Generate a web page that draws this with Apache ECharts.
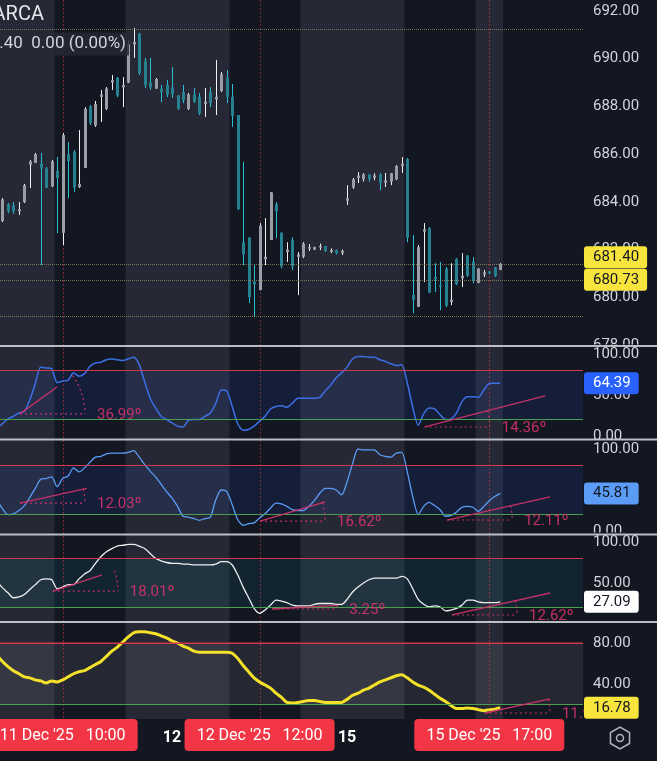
<!DOCTYPE html>
<html>
<head>
<meta charset="utf-8">
<title>ARCA 30m</title>
<script src="https://cdn.jsdelivr.net/npm/echarts@6/dist/echarts.min.js"></script>
<style>
  html, body { margin: 0; padding: 0; background: #131722; }
  #chart { width: 657px; height: 761px; }
</style>
</head>
<body>
<div id="chart"></div>
<script>
// 30 min bars, 11 Dec 04:00 -> 15 Dec 18:00 (extended hours), index = bar number
// [open, high, low, close]
const candles = [
  [683.5, 684.0, 683.2, 683.8], [683.2, 684.16, 683.15, 684.1], [683.9, 683.95, 683.53, 683.6],
  [683.85, 683.99, 683.5, 683.6], [683.6, 683.99, 683.45, 683.7], [683.99, 684.75, 683.95, 684.7],
  [685.55, 685.75, 684.58, 685.7], [685.63, 686.05, 685.63, 686.0], [685.6, 686.05, 681.35, 685.4],
  [685.4, 685.46, 684.58, 684.6], [684.65, 685.75, 684.62, 685.7], [685.3, 685.88, 682.69, 685.0],
  [682.7, 686.88, 682.19, 686.8], [686.0, 686.51, 684.16, 685.7], [686.1, 686.17, 684.41, 684.6],
  [684.62, 687.01, 684.58, 684.75], [685.42, 687.97, 685.42, 687.9], [688.0, 688.06, 687.22, 687.3],
  [687.2, 688.23, 687.14, 688.1], [688.4, 688.69, 687.35, 688.5], [687.9, 688.81, 687.85, 688.75],
  [689.0, 689.32, 688.69, 689.1], [689.2, 689.23, 688.39, 688.45], [688.8, 689.23, 687.97, 688.9],
  [689.0, 690.78, 688.98, 690.6], [690.6, 691.29, 690.03, 690.7], [691.05, 691.08, 689.32, 689.4],
  [689.9, 690.03, 688.77, 688.9], [689.0, 690.03, 688.69, 688.8], [688.75, 689.19, 688.73, 689.15],
  [688.75, 688.9, 688.18, 688.6], [688.9, 689.11, 688.39, 688.5], [688.8, 689.65, 688.35, 688.5],
  [688.45, 688.48, 687.85, 687.9], [688.6, 688.9, 688.14, 688.25], [687.9, 688.56, 687.85, 688.5],
  [688.5, 688.77, 688.14, 688.2], [688.4, 688.56, 687.64, 687.7], [688.1, 688.77, 687.56, 688.2],
  [688.6, 688.81, 687.97, 688.15], [688.3, 689.95, 687.64, 688.4], [688.65, 689.44, 688.6, 689.35],
  [689.2, 689.53, 688.14, 688.4], [688.4, 688.94, 687.14, 687.6], [687.64, 687.64, 683.66, 683.7],
  [682.3, 685.67, 681.35, 681.8], [682.5, 682.52, 679.76, 680.0], [680.65, 681.35, 679.17, 680.55],
  [680.3, 683.11, 680.3, 683.0], [681.6, 683.32, 681.35, 681.7], [682.4, 684.41, 682.4, 684.4],
  [683.9, 683.99, 682.48, 683.6], [682.7, 682.73, 681.22, 681.3], [681.9, 682.31, 681.48, 682.0],
  [682.4, 682.52, 681.14, 681.3], [681.7, 681.9, 680.09, 681.8], [681.7, 682.31, 681.64, 682.25],
  [682.05, 682.23, 681.94, 682.1], [682.0, 682.12, 681.98, 682.1], [682.1, 682.25, 681.98, 682.15],
  [682.15, 682.15, 681.9, 681.95], [681.9, 682.05, 681.85, 681.98], [681.98, 682.0, 681.8, 681.85],
  [681.85, 682.0, 681.77, 681.95], [684.05, 684.7, 683.87, 684.15], [684.6, 685.0, 684.54, 684.95],
  [685.0, 685.25, 684.79, 685.1], [684.95, 685.2, 684.85, 685.15], [685.15, 685.15, 684.85, 684.95],
  [685.0, 685.2, 684.9, 685.1], [685.15, 685.2, 684.49, 684.8], [684.8, 685.21, 684.62, 684.9],
  [684.85, 685.21, 684.7, 685.2], [684.95, 685.54, 684.91, 685.5], [685.5, 685.88, 685.21, 685.6],
  [685.8, 685.84, 682.31, 682.5], [680.1, 682.61, 679.33, 679.9], [679.6, 682.19, 679.59, 682.1],
  [682.75, 683.11, 680.64, 682.85], [682.9, 682.94, 680.18, 680.2], [680.85, 681.43, 680.22, 680.75],
  [680.5, 681.48, 679.46, 680.45], [681.2, 681.27, 679.59, 679.65], [679.8, 681.43, 679.67, 679.9],
  [681.6, 681.64, 680.51, 680.55], [680.8, 681.85, 680.43, 680.9], [681.75, 681.77, 680.85, 680.9],
  [681.5, 681.69, 680.59, 680.7], [680.6, 681.22, 680.59, 681.2], [680.95, 681.14, 680.85, 681.05],
  [681.08, 681.1, 680.97, 681.0], [681.25, 681.27, 680.85, 680.9], [681.15, 681.43, 681.14, 681.4]
];

// oscillator panes, one value per bar
const oscA = [10, 15, 21, 24, 28, 30, 44, 64, 84, 83, 82, 65, 67, 68, 77, 73, 76, 85, 89, 90,
  93, 94, 93, 92, 94, 96, 87, 66, 46, 34, 24, 20, 16, 12, 11, 19, 20, 20, 24, 28,
  40, 56, 55, 36, 15, 7, 8, 12, 18, 24, 33, 36, 37, 35, 40, 46, 46, 46, 46, 47,
  55, 62, 71, 77, 84, 94, 97, 97, 96, 96, 93, 91, 88, 86, 87, 65, 35, 13, 27, 34,
  33, 26, 20, 21, 28, 42, 48, 48, 47, 56, 64, 64.4, 64.39];
const oscB = [38, 27, 20, 21, 25, 31, 41, 52, 63, 64, 66, 54, 64, 67, 77, 72, 77, 84, 90, 91,
  94, 95, 95, 95, 96, 98, 90, 81, 73, 66, 57, 48, 40, 30, 18, 17, 15, 13, 15, 17,
  38, 50, 48, 32, 14, 7, 9, 10, 16, 21, 28, 34, 33, 30, 26, 25, 25, 30, 37, 46,
  52, 52, 50, 44, 60, 82, 100, 99, 99, 99, 93, 91, 90, 95, 96, 72, 42, 20, 30, 35,
  31, 26, 18, 19, 23, 29, 30, 29, 24, 30, 37, 42, 45.81];
const oscC = [52, 44, 38, 32, 33, 36, 42, 48, 54, 55, 54, 43, 45, 48, 48, 55, 61, 65, 74, 82,
  88, 92, 95, 96, 97, 97, 95, 92, 86, 80, 77, 75, 74, 74, 73, 73, 72, 72, 72, 72,
  73, 76, 76, 72, 60, 45, 32, 19, 13, 17, 23, 29, 28, 26, 23, 22, 22, 22, 24, 25,
  25, 25, 24, 24, 30, 39, 45, 50, 54, 56, 56, 56, 56, 56, 58, 55, 43, 30, 24, 21,
  22, 21, 16, 17, 19, 23, 29, 29, 27, 26, 26, 26, 27.09];
const oscD = [68, 62, 57, 53, 50, 47, 46, 44, 43, 41, 43, 42, 44, 47, 50, 52, 53, 56, 59, 62,
  67, 72, 76, 81, 86, 90, 91, 91, 90, 89, 87, 85, 82, 80, 77, 75, 72, 71, 71, 71,
  71, 71, 71, 70, 65, 58, 52, 46, 42, 39, 36, 31, 27, 22, 21.5, 22, 23, 24, 24, 23,
  22, 22, 22, 22, 25, 29, 31, 34, 36, 39, 42, 44, 46, 48, 49, 46, 42, 39, 37, 34,
  30, 26, 23, 19, 16, 16, 16.5, 16, 15, 14, 15, 15.5, 16.78];

// extended-hours shading (bar index ranges), crosshair bars and day marks
const extBands = [[-1, 10.5], [23.5, 42.5], [55.5, 74.5], [87.5, 92.5]];
const crossBars = [12, 48, 90];
const crossLabels = ["11 Dec '25   10:00", "12 Dec '25   12:00", "15 Dec '25   17:00"];
const dayBars = [32, 64];
const dayLabels = ['12', '15'];
const priceLines = [691.25, 681.40, 680.73, 679.21];
const lastPrice = 681.40;
const refPrice = 680.73;

// angle drawings: pane, start [bar, value], end [bar, value]
const angleNotes = [
  { pane: 1, from: [4.2, 27], to: [11, 60], label: '36.99º' },
  { pane: 1, from: [78.2, 11], to: [100.2, 49], label: '14.36º' },
  { pane: 2, from: [4.2, 34], to: [16.4, 52], label: '12.03º' },
  { pane: 2, from: [48.1, 12], to: [60, 35.4], label: '16.62º' },
  { pane: 2, from: [82.3, 13.4], to: [101.1, 41.5], label: '12.11º' },
  { pane: 3, from: [10.2, 40], to: [19.2, 60], label: '18.01º' },
  { pane: 3, from: [50.3, 18.3], to: [62.2, 22.8], label: '3.25º' },
  { pane: 3, from: [83.2, 11], to: [101.1, 37.8], label: '12.62º' },
  { pane: 4, from: [89.2, 11.7], to: [101.1, 25.4], label: '11.91º' }
];

const BG = '#131722';
const BAND = '#262935';
const TXT = '#d1d4dc';
const PINK = 'rgba(214,51,108,0.9)';
const X_MIN = 0.548;
const X_MAX = 107.13;

const panes = [
  { top: 11, height: 334, min: 678, max: 692, interval: 2 },
  { top: 354, height: 82, min: 0, max: 100, interval: 50 },
  { top: 449, height: 82, min: 0, max: 100, interval: 50 },
  { top: 542, height: 82, min: 0, max: 100, interval: 50 },
  { top: 622.5, height: 102.5, min: 0, max: 100, interval: 40 }
];
const separators = [346, 439.5, 534.5, 622];

const chart = echarts.init(document.getElementById('chart'))

const grids = [{ left: 0, right: 74, top: 0, height: 719 }]
const xAxes = [{ type: 'value', gridIndex: 0, min: X_MIN, max: X_MAX, show: false }]
const yAxes = [{ type: 'value', gridIndex: 0, min: 0, max: 1, show: false }]

panes.forEach((p, k) => {
  grids.push({ left: 0, right: 74, top: p.top, height: p.height })
  xAxes.push({ type: 'value', gridIndex: k + 1, min: X_MIN, max: X_MAX, show: false })
  const label = {
    color: TXT, fontSize: 15, fontFamily: 'Roboto', margin: 10,
    formatter: v => v.toFixed(2)
  }
  if (k === 1 || k === 2 || k === 3) {
    label.backgroundColor = BG
    label.padding = [2, 0]
  }
  if (k === 3) {
    // zero sits under the pane separator
    label.formatter = v => v === 0 ? '' : v.toFixed(2)
    label.showMinLabel = false
  }
  if (k === 4) {
    label.formatter = v => (v === 40 || v === 80) ? v.toFixed(2) : ''
  }
  yAxes.push({
    type: 'value', gridIndex: k + 1, position: 'right',
    min: p.min, max: p.max, interval: p.interval,
    axisLine: { show: false }, axisTick: { show: false }, splitLine: { show: false },
    axisLabel: label
  })
})

function oscSeries(k, values, color, width, fill) {
  return {
    type: 'line', xAxisIndex: k, yAxisIndex: k, z: 3,
    data: values.map((v, i) => [i, v]),
    showSymbol: false, smooth: 0.25,
    lineStyle: { color: color, width: width },
    markArea: {
      silent: true,
      itemStyle: { color: fill },
      data: [[{ yAxis: 20 }, { yAxis: 80 }]]
    },
    markLine: {
      silent: true, symbol: ['none', 'none'], label: { show: false },
      data: [
        { yAxis: 80, lineStyle: { color: '#d0384c', type: 'solid', width: 1 } },
        { yAxis: 20, lineStyle: { color: '#4a9e52', type: 'solid', width: 1 } }
      ]
    }
  }
}

const option = {
  backgroundColor: BG,
  animation: false,
  grid: grids,
  xAxis: xAxes,
  yAxis: yAxes,
  series: [
    {
      // session shading
      type: 'custom', xAxisIndex: 0, yAxisIndex: 0, z: 0, silent: true,
      data: extBands.map(b => [b[0], b[1], 0, 1]),
      encode: { x: [0, 1], y: [2, 3] },
      renderItem(params, api) {
        const p0 = api.coord([api.value(0), 1])
        const p1 = api.coord([api.value(1), 0])
        return {
          type: 'rect',
          shape: { x: p0[0], y: p0[1], width: p1[0] - p0[0], height: p1[1] - p0[1] },
          style: { fill: BAND }
        }
      }
    },
    {
      // crosshair verticals
      type: 'custom', xAxisIndex: 0, yAxisIndex: 0, z: 1, silent: true,
      data: crossBars.map(i => [i, 0]),
      encode: { x: 0, y: 1 },
      renderItem(params, api) {
        const p0 = api.coord([api.value(0), 1])
        const p1 = api.coord([api.value(0), 0])
        const x = Math.round(p0[0]) + 0.5
        return {
          type: 'line',
          shape: { x1: x, y1: p0[1], x2: x, y2: p1[1] },
          style: { stroke: 'rgba(242,54,69,0.5)', lineWidth: 1, lineDash: [2, 2] }
        }
      }
    },
    {
      type: 'custom', xAxisIndex: 1, yAxisIndex: 1, z: 3, clip: true,
      data: candles.map((c, i) => [i, c[0], c[1], c[2], c[3]]),
      encode: { x: 0, y: [1, 2, 3, 4] },
      renderItem(params, api) {
        const i = api.value(0)
        const o = api.value(1), h = api.value(2), l = api.value(3), c = api.value(4)
        const up = c >= o
        const pH = api.coord([i, h]), pL = api.coord([i, l])
        const pO = api.coord([i, o]), pC = api.coord([i, c])
        const x = Math.round(pH[0]) + 0.5
        const top = Math.min(pO[1], pC[1])
        const bh = Math.max(Math.abs(pO[1] - pC[1]), 1.5)
        return {
          type: 'group',
          children: [
            {
              type: 'line', shape: { x1: x, y1: pH[1], x2: x, y2: pL[1] },
              style: { stroke: up ? '#f2f2f2' : '#2cbdd0', lineWidth: 1 }
            },
            {
              type: 'rect', shape: { x: x - 1.5, y: top, width: 3, height: bh },
              style: { fill: up ? '#9a9da5' : '#25808f' }
            }
          ]
        }
      },
      markLine: {
        silent: true, symbol: ['none', 'none'], label: { show: false },
        lineStyle: { color: 'rgba(160,155,100,0.7)', type: 'dotted', width: 1 },
        data: priceLines.map(v => ({ yAxis: v }))
      }
    },
    oscSeries(2, oscA, '#3c6fe6', 1.5, 'rgba(41,98,255,0.1)'),
    oscSeries(3, oscB, '#5b9cf6', 1.3, 'rgba(41,98,255,0.1)'),
    oscSeries(4, oscC, '#eeeeee', 1.3, 'rgba(0,188,212,0.08)'),
    oscSeries(5, oscD, '#f3e12a', 3, 'rgba(120,123,134,0.18)')
  ]
}

chart.setOption(option)

// overlays positioned through the axes
const toPx = (pane, i, v) => chart.convertToPixel({ gridIndex: pane + 1 }, [i, v])
const g = []

separators.forEach(y => {
  g.push({ type: 'line', z: 20, silent: true, shape: { x1: 0, y1: y, x2: 657, y2: y },
    style: { stroke: 'rgba(215,218,225,0.85)', lineWidth: 2 } })
})

// 80 level of the last pane sits on its top edge, redraw it above the fill
const y80 = toPx(4, 0, 80)[1]
g.push({ type: 'line', z: 5, silent: true, shape: { x1: 0, y1: y80, x2: toPx(4, X_MAX, 80)[0], y2: y80 },
  style: { stroke: '#d0384c', lineWidth: 1 } })

const R = 65
angleNotes.forEach(n => {
  const a = toPx(n.pane, n.from[0], n.from[1])
  const b = toPx(n.pane, n.to[0], n.to[1])
  const theta = Math.atan2(a[1] - b[1], b[0] - a[0])
  g.push({ type: 'line', z: 10, silent: true, shape: { x1: a[0], y1: a[1], x2: b[0], y2: b[1] },
    style: { stroke: PINK, lineWidth: 1.3 } })
  g.push({ type: 'line', z: 10, silent: true, shape: { x1: a[0], y1: a[1], x2: a[0] + R, y2: a[1] },
    style: { stroke: PINK, lineWidth: 1.2, lineDash: [2, 3] } })
  g.push({ type: 'arc', z: 10, silent: true,
    shape: { cx: a[0], cy: a[1], r: R, startAngle: -theta, endAngle: 0, clockwise: true },
    style: { stroke: PINK, fill: 'none', lineWidth: 1.2, lineDash: [2, 3] } })
  g.push({ type: 'text', z: 10, silent: true, x: a[0] + R + 12, y: a[1] + 1,
    style: { text: n.label, fill: PINK, font: '15px Roboto', verticalAlign: 'middle' } })
})

// value tags on the price scale
function tag(y, text, bg, fg) {
  g.push({ type: 'text', z: 30, silent: true, x: 584, y: y,
    style: { text: text, fill: fg, backgroundColor: bg, font: '15px Roboto',
      padding: [3, 8, 3, 9], borderRadius: 3, verticalAlign: 'middle', lineHeight: 16 } })
}
const yRef = toPx(0, 0, refPrice)[1]
const yLast = Math.min(toPx(0, 0, lastPrice)[1], yRef - 22.5)
tag(yLast, lastPrice.toFixed(2), '#f7e43d', '#131722')
tag(yRef, refPrice.toFixed(2), '#f7e43d', '#131722')
tag(toPx(1, 0, oscA[oscA.length - 1])[1], oscA[oscA.length - 1].toFixed(2), '#2962ff', '#ffffff')
tag(toPx(2, 0, oscB[oscB.length - 1])[1], oscB[oscB.length - 1].toFixed(2), '#5b9cf6', '#131722')
tag(toPx(3, 0, oscC[oscC.length - 1])[1], oscC[oscC.length - 1].toFixed(2), '#ffffff', '#131722')
tag(toPx(4, 0, oscD[oscD.length - 1])[1], oscD[oscD.length - 1].toFixed(2), '#f7e43d', '#131722')

// time scale
crossBars.forEach((i, k) => {
  const x = toPx(0, i, 680)[0]
  g.push({ type: 'rect', z: 30, silent: true, shape: { x: x - 75, y: 719, width: 150, height: 32, r: 4 },
    style: { fill: '#f23645' } })
  g.push({ type: 'text', z: 31, silent: true, x: x, y: 736,
    style: { text: crossLabels[k], fill: '#ffffff', font: '16px Roboto', align: 'center', verticalAlign: 'middle' } })
})
dayBars.forEach((i, k) => {
  const x = toPx(0, i, 680)[0]
  g.push({ type: 'text', z: 25, silent: true, x: x, y: 738,
    style: { text: dayLabels[k], fill: '#ffffff', font: 'bold 16px Roboto', align: 'center', verticalAlign: 'middle' } })
})

// header
g.push({ type: 'text', z: 30, silent: true, x: 48, y: 15,
  style: { text: 'SPY · 30 · ARCA', fill: '#e4e6eb', font: '20px Roboto', align: 'right', verticalAlign: 'middle',
    backgroundColor: 'rgba(38,41,53,0.85)', padding: [3, 4] } })
g.push({ type: 'text', z: 30, silent: true, x: 129, y: 44,
  style: { text: 'C681.40  0.00 (0.00%)', fill: '#d1d4dc', font: '17px Roboto', align: 'right', verticalAlign: 'middle',
    backgroundColor: 'rgba(38,41,53,0.85)', padding: [3, 3] } })

// settings icon
const hex = []
for (let k = 0; k < 6; k++) {
  const ang = Math.PI / 6 + k * Math.PI / 3
  hex.push([620 + 11 * Math.cos(ang), 738 + 11 * Math.sin(ang)])
}
g.push({ type: 'polygon', z: 30, silent: true, shape: { points: hex },
  style: { fill: 'none', stroke: '#b2b5be', lineWidth: 1.5 } })
g.push({ type: 'circle', z: 30, silent: true, shape: { cx: 620, cy: 738, r: 3.5 },
  style: { fill: 'none', stroke: '#b2b5be', lineWidth: 1.5 } })

chart.setOption({ graphic: g })
</script>
</body>
</html>
